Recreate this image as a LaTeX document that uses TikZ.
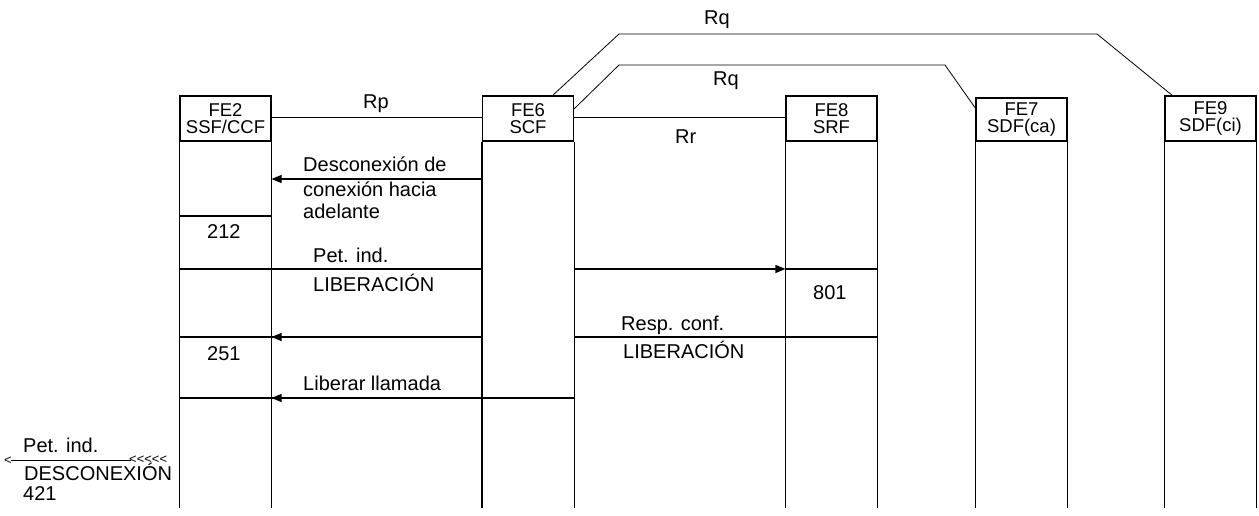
\documentclass[tikz,border=0pt]{standalone}
\usepackage{fontspec}
\setmainfont{Liberation Sans}
\usetikzlibrary{arrows.meta}
\begin{document}
\begin{tikzpicture}[x=1pt,y=-1pt,
  ln/.style={line width=1.1pt},
  thin/.style={line width=0.8pt},
  hdr/.style={draw,line width=1.1pt,minimum width=91pt,minimum height=45pt,inner sep=0pt,align=center,font=\fontsize{18.5}{17}\selectfont},
  msg/.style={inner sep=0pt,anchor=base west,font=\fontsize{20}{23}\selectfont},
  arr/.style={ln,-{Triangle[length=10pt,width=8pt]}},
  small/.style={inner sep=0pt,anchor=base west,font=\fontsize{13}{14}\selectfont}]
\useasboundingbox (0,0) rectangle (1259,515);
% header boxes
\node[hdr] (fe2) at (225.5,118.5) {FE2\\SSF/CCF};
\node[hdr] (fe6) at (528,118.5) {FE6\\SCF};
\node[hdr] (fe8) at (831.5,118.5) {FE8\\SRF};
\node[hdr,minimum height=43pt] (fe7) at (1021.5,119.5) {FE7\\SDF(ca)};
\node[hdr] (fe9) at (1210.5,118.5) {FE9\\SDF(ci)};
% header bottom lines and lifelines
\foreach \n in {fe2,fe6,fe8,fe7,fe9}{
  \draw[line width=1.8pt] (\n.south west) -- (\n.south east);
  \draw[ln] (\n.south west) -- (\n.south west |- 0,508);
  \draw[ln] (\n.south east) -- (\n.south east |- 0,508);
}
% interfaces
\draw[ln] (fe2.east |- 0,117.7) -- (fe6.west |- 0,117.7);
\node[msg] (rp) at (363,108) {Rp};
\draw[ln] (fe6.east |- 0,117.7) -- (fe8.west |- 0,117.7);
\node[msg] (rr) at (675,143) {Rr};
\coordinate (q1) at (552,96);
\coordinate (q2) at (1173,96);
\draw[thin] (q1) -- (619,34) -- (1097,34) -- (q2);
\coordinate (q3) at (574,109);
\coordinate (q4) at (976,109);
\draw[thin] (q3) -- (619,65) -- (945,65) -- (q4);
\node[msg] (rqa) at (704,24) {Rq};
\node[msg] (rqb) at (713,85) {Rq};
% message 1
\draw[arr] (fe6.west |- 0,179) -- (fe2.east |- 0,179);
\node[msg] (m1a) at (303,171.7) {Desconexión de};
\node[msg] (m1b) at (303,196) {conexión hacia};
\node[msg] (m1c) at (303,218) {adelante};
% 212
\draw[ln] (fe2.west |- 0,216) -- (fe2.east |- 0,216);
\node[msg] (n212) at (207,238) {212};
% message 2
\draw[ln] (fe2.west |- 0,269) -- (fe6.west |- 0,269);
\draw[arr] (fe6.east |- 0,269) -- (fe8.west |- 0,269);
\draw[ln] (fe8.west |- 0,269) -- (fe8.east |- 0,269);
\node[msg] (m2a) at (313,262) {Pet. ind.};
\node[msg] (m2b) at (313,291.7) {LIBERACIÓN};
\node[msg] (n801) at (813,299) {801};
% message 3
\draw[ln] (fe2.west |- 0,337) -- (fe6.west |- 0,337);
\draw[arr] (fe6.west |- 0,337) -- (fe2.east |- 0,337);
\draw[ln] (fe6.east |- 0,337) -- (fe8.east |- 0,337);
\node[msg] (m3a) at (621,330) {Resp. conf.};
\node[msg] (m3b) at (623,358) {LIBERACIÓN};
\node[msg] (n251) at (207,360) {251};
% message 4
\draw[ln] (fe2.west |- 0,398) -- (fe6.east |- 0,398);
\draw[arr] (fe6.east |- 0,398) -- (fe2.east |- 0,398);
\node[msg] (m4) at (303,390.7) {Liberar llamada};
% bottom left
\coordinate (bl1) at (11,460);
\coordinate (bl2) at (131,460);
\draw[thin] (bl1) -- (bl2);
\node[small,anchor=west] (lt) at (4,460.5) {<};
\node[small,anchor=west] (lts) at (129,459.5) {{<}{<}{<}{<}{<}};
\node[msg] (b1) at (23,452) {Pet. ind.};
\node[msg] (b2) at (24,480) {DESCONEXIÓN};
\node[msg] (b3) at (23,500) {421};
\end{tikzpicture}
\end{document}
